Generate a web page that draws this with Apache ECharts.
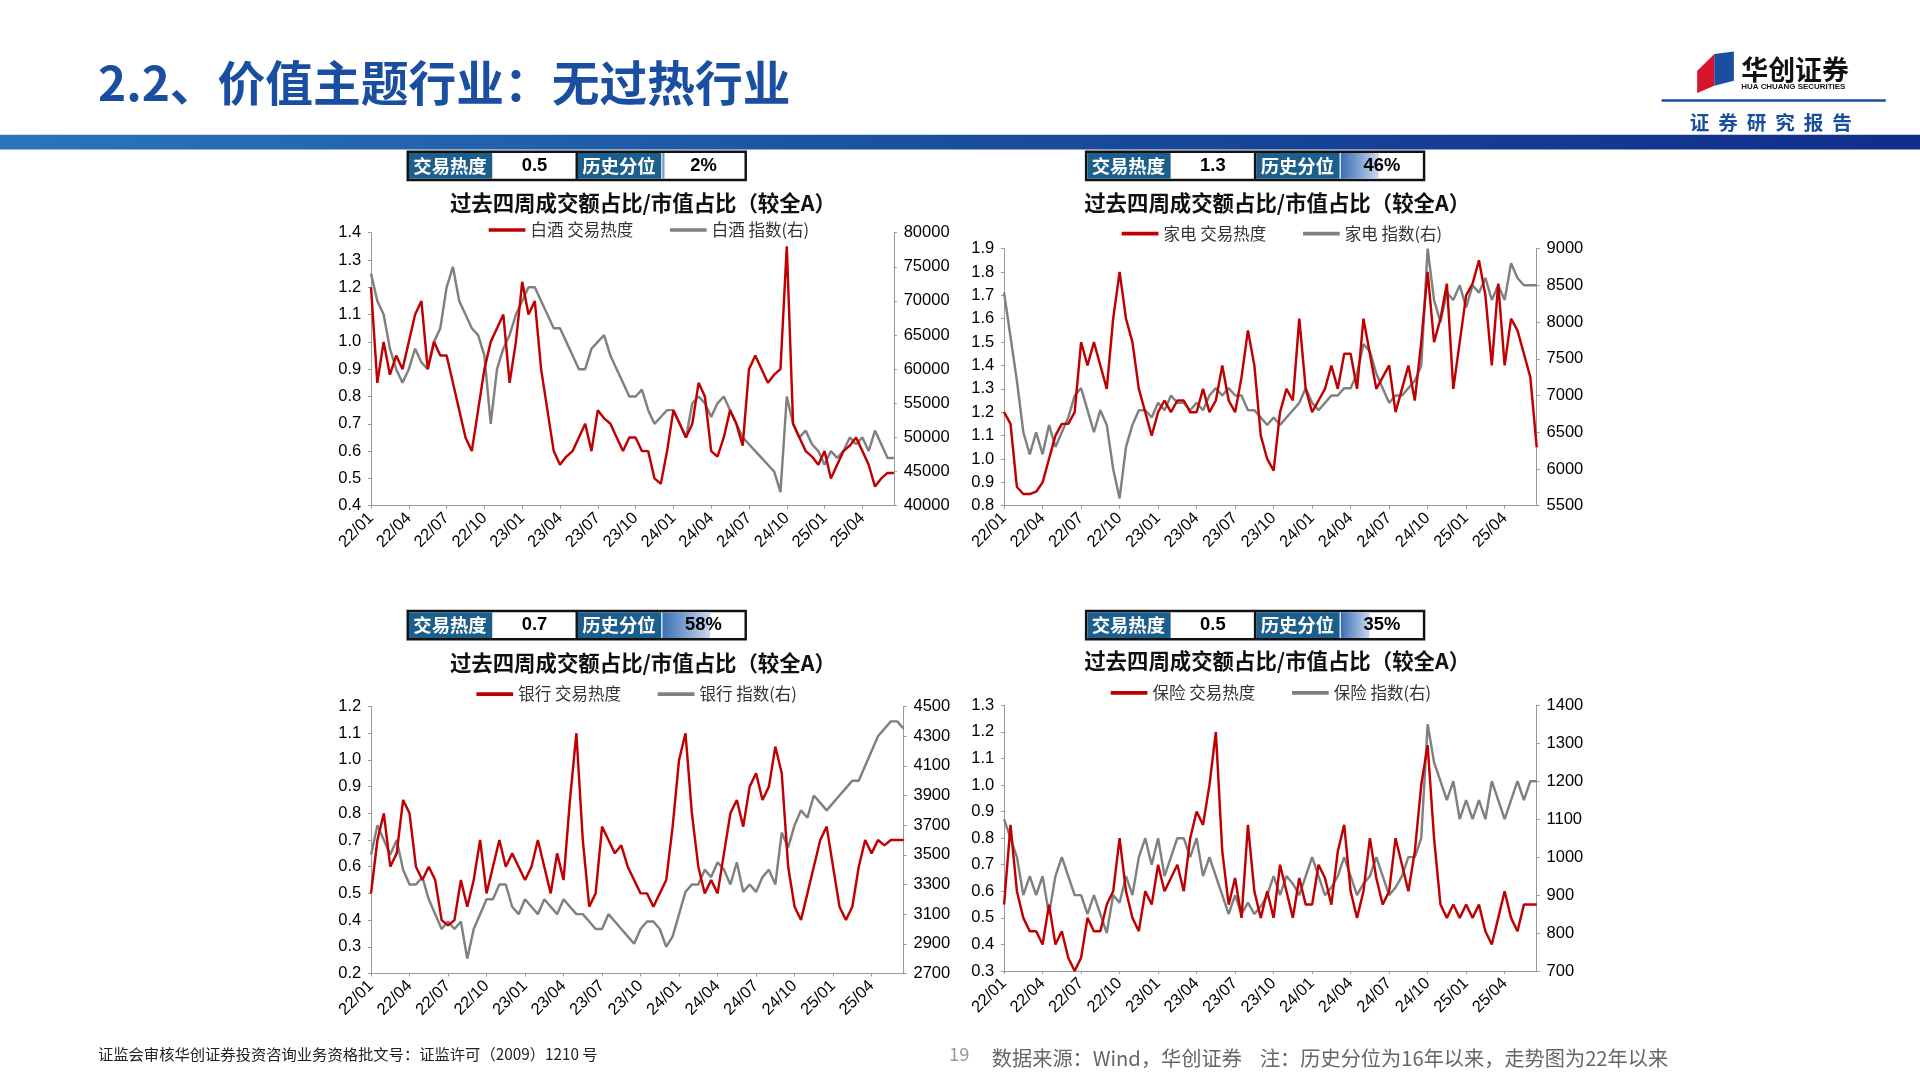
<!DOCTYPE html>
<html><head><meta charset="utf-8">
<script src="https://cdn.jsdelivr.net/npm/echarts@6/dist/echarts.min.js"></script>
<style>html,body{margin:0;padding:0;background:#fff}#c{width:1920px;height:1080px}</style>
</head><body><div id="c"></div>
<script>
const months=['22/01','22/02','22/03','22/04','22/05','22/06','22/07','22/08','22/09','22/10','22/11','22/12',
'23/01','23/02','23/03','23/04','23/05','23/06','23/07','23/08','23/09','23/10','23/11','23/12',
'24/01','24/02','24/03','24/04','24/05','24/06','24/07','24/08','24/09','24/10','24/11','24/12',
'25/01','25/02','25/03','25/04','25/05','25/06'];
const categories=months.flatMap(m=>[m,m]);

const baijiuHeat=[1.2,0.85,1.0,0.88,0.95,0.9,1.0,1.1,1.15,0.9,1.0,0.95,0.95,0.85,0.75,0.65,0.6,0.75,0.9,1.0,1.05,1.1,0.85,1.0,
1.22,1.1,1.15,0.9,0.75,0.6,0.55,0.58,0.6,0.65,0.7,0.6,0.75,0.72,0.7,0.65,0.6,0.65,0.65,0.6,0.6,0.5,0.48,0.6,
0.75,0.7,0.65,0.7,0.85,0.8,0.6,0.58,0.65,0.75,0.7,0.62,0.9,0.95,0.9,0.85,0.88,0.9,1.35,0.7,0.65,0.6,0.58,0.55,
0.6,0.5,0.55,0.6,0.62,0.65,0.6,0.55,0.47,0.5,0.52,0.52];
const baijiuIdx=[74000,70000,68000,63000,60000,58000,60000,63000,61000,60000,64000,66000,72000,75000,70000,68000,66000,65000,62000,52000,60000,63000,65000,68000,
70000,72000,72000,70000,68000,66000,66000,64000,62000,60000,60000,63000,64000,65000,62000,60000,58000,56000,56000,57000,54000,52000,53000,54000,
54000,52000,50000,55000,56000,55000,53000,55000,56000,54000,52000,50000,49000,48000,47000,46000,45000,42000,56000,52000,50000,51000,49000,48000,
46000,48000,47000,48000,50000,49000,50000,48000,51000,49000,47000,47000];

const jiadianHeat=[1.2,1.15,0.88,0.85,0.85,0.86,0.9,1.0,1.1,1.15,1.15,1.2,1.5,1.4,1.5,1.4,1.3,1.6,1.8,1.6,1.5,1.3,1.2,1.1,
1.2,1.25,1.2,1.25,1.25,1.2,1.2,1.3,1.2,1.25,1.4,1.25,1.2,1.35,1.55,1.4,1.1,1.0,0.95,1.2,1.3,1.25,1.6,1.3,
1.2,1.25,1.3,1.4,1.3,1.45,1.45,1.3,1.6,1.45,1.3,1.35,1.4,1.2,1.3,1.4,1.25,1.5,1.8,1.5,1.6,1.75,1.3,1.5,
1.7,1.75,1.85,1.7,1.4,1.75,1.4,1.6,1.55,1.45,1.35,1.05];
const jiadianIdx=[8400,7800,7200,6500,6200,6500,6200,6600,6300,6500,6700,7000,7100,6800,6500,6800,6600,6000,5600,6300,6600,6800,6800,6700,
6900,6800,7000,6900,6900,6800,6900,6800,7000,7100,7000,7100,7000,7000,6800,6800,6700,6600,6700,6600,6700,6800,6900,7100,
6900,6800,6900,7000,7000,7100,7100,7300,7700,7600,7300,7100,6900,7000,7000,7100,7200,7400,9000,8300,8000,8400,8300,8500,
8200,8500,8400,8600,8300,8500,8300,8800,8600,8500,8500,8500];

const yinhangHeat=[0.5,0.7,0.8,0.6,0.65,0.85,0.8,0.6,0.55,0.6,0.55,0.4,0.38,0.4,0.55,0.45,0.55,0.7,0.5,0.6,0.7,0.6,0.65,0.6,
0.55,0.6,0.7,0.6,0.5,0.65,0.55,0.85,1.1,0.7,0.45,0.5,0.75,0.7,0.65,0.68,0.6,0.55,0.5,0.5,0.45,0.5,0.55,0.75,
1.0,1.1,0.8,0.6,0.5,0.55,0.5,0.65,0.8,0.85,0.75,0.9,0.95,0.85,0.9,1.05,0.95,0.6,0.45,0.4,0.5,0.6,0.7,0.75,
0.6,0.45,0.4,0.45,0.6,0.7,0.65,0.7,0.68,0.7,0.7,0.7];
const yinhangIdx=[3500,3700,3600,3500,3600,3400,3300,3300,3350,3200,3100,3000,3050,3000,3050,2800,3000,3100,3200,3200,3300,3300,3150,3100,
3200,3150,3100,3200,3150,3100,3200,3150,3100,3100,3050,3000,3000,3100,3050,3000,2950,2900,3000,3050,3050,3000,2880,2950,
3100,3250,3300,3300,3400,3350,3450,3400,3300,3450,3250,3300,3250,3350,3400,3300,3650,3550,3700,3800,3750,3900,3850,3800,
3850,3900,3950,4000,4000,4100,4200,4300,4350,4400,4400,4350];

const baoxianHeat=[0.55,0.85,0.6,0.5,0.45,0.45,0.4,0.55,0.4,0.45,0.35,0.3,0.35,0.5,0.45,0.45,0.55,0.6,0.8,0.6,0.5,0.45,0.6,0.55,
0.7,0.6,0.65,0.7,0.6,0.8,0.9,0.85,1.0,1.2,0.75,0.55,0.65,0.5,0.85,0.6,0.5,0.6,0.5,0.7,0.6,0.5,0.65,0.55,
0.55,0.7,0.65,0.55,0.75,0.85,0.6,0.5,0.6,0.8,0.65,0.55,0.6,0.8,0.7,0.6,0.75,1.0,1.15,0.8,0.55,0.5,0.55,0.5,
0.55,0.5,0.55,0.45,0.4,0.5,0.6,0.5,0.45,0.55,0.55,0.55];
const baoxianIdx=[1100,1050,1000,900,950,900,950,850,950,1000,950,900,900,850,900,850,800,900,880,950,900,1000,1050,980,
1050,950,1000,1050,1050,1000,1050,950,1000,950,900,850,900,850,880,850,870,900,950,900,950,930,900,950,
1000,950,900,920,950,1000,950,900,930,950,1000,950,900,920,950,1000,1000,1050,1350,1250,1200,1150,1200,1100,
1150,1100,1150,1100,1200,1150,1100,1150,1200,1150,1200,1200];

const panels=[
 {name:'白酒',heat:baijiuHeat,idx:baijiuIdx,hv:'0.5',pct:0.02,pl:'2%',box:[333,124],title:[525,166],leg:[395,185],
  grid:[303,190,730,413],l:[0.4,1.4,0.1],r:[40000,80000,5000]},
 {name:'家电',heat:jiadianHeat,idx:jiadianIdx,hv:'1.3',pct:0.46,pl:'46%',box:[887,124],title:[1043,166],leg:[912,188],
  grid:[820,203,1255,413],l:[0.8,1.9,0.1],r:[5500,9000,500]},
 {name:'银行',heat:yinhangHeat,idx:yinhangIdx,hv:'0.7',pct:0.58,pl:'58%',box:[333,499],title:[525,541],leg:[385,564],
  grid:[303,577,738,795],l:[0.2,1.2,0.1],r:[2700,4500,200]},
 {name:'保险',heat:baoxianHeat,idx:baoxianIdx,hv:'0.5',pct:0.35,pl:'35%',box:[887,499],title:[1043,540],leg:[903,563],
  grid:[820,576,1255,793],l:[0.3,1.3,0.1],r:[700,1400,100]}
];
const S=1920/1568, s=v=>v*S;
const RED='#C00000', GRAY='#808080', FONT='"Noto Sans CJK SC","Noto Sans",sans-serif';
const grids=[],xAxes=[],yAxes=[],series=[],legends=[],graphics=[];
const axisLbl={fontSize:s(13.5),color:'#000',fontFamily:'"Liberation Sans Narrow","Liberation Sans",Arial'};
panels.forEach((p,i)=>{
  const [x1,y1,x2,y2]=p.grid;
  grids.push({left:s(x1),top:s(y1),width:s(x2-x1),height:s(y2-y1)});
  xAxes.push({type:'category',gridIndex:i,data:categories,boundaryGap:false,
    axisLine:{lineStyle:{color:'#999'}},axisTick:{interval:(k)=>k%6===0,length:3,lineStyle:{color:'#999'}},
    axisLabel:Object.assign({},axisLbl,{interval:(k)=>k%6===0,rotate:45,margin:s(8)})});
  const ya=(rng,pos,dec)=>({type:'value',gridIndex:i,position:pos,min:rng[0],max:rng[1],interval:rng[2],
    axisLine:{show:true,lineStyle:{color:'#999'}},axisTick:{show:true,length:3,lineStyle:{color:'#999'}},splitLine:{show:false},
    axisLabel:Object.assign({},axisLbl,{margin:s(8),formatter:v=>dec?v.toFixed(1):String(Math.round(v))})});
  yAxes.push(ya(p.l,'left',true)); yAxes.push(ya(p.r,'right',false));
  const n1=p.name+' 交易热度', n2=p.name+' 指数(右)';
  series.push({name:n1,type:'line',xAxisIndex:i,yAxisIndex:2*i,data:p.heat,showSymbol:false,lineStyle:{color:RED,width:s(2)},itemStyle:{color:RED},z:3});
  series.push({name:n2,type:'line',xAxisIndex:i,yAxisIndex:2*i+1,data:p.idx,showSymbol:false,lineStyle:{color:GRAY,width:s(2)},itemStyle:{color:GRAY},z:2});
  legends.push({data:[n1,n2],left:s(p.leg[0]),top:s(p.leg[1]-8),itemWidth:s(30),itemHeight:s(3),icon:'rect',itemGap:s(30),
    textStyle:{fontSize:s(13.5),color:'#333',fontFamily:FONT}});
  const [bx,by]=p.box, cw=69, h=23;
  const teal='#1C5E8C';
  graphics.push(
    {type:'rect',shape:{x:s(bx),y:s(by),width:s(cw*4),height:s(h)},style:{fill:'#fff',stroke:'#111',lineWidth:s(2)}},
    {type:'rect',shape:{x:s(bx+1),y:s(by+1),width:s(cw-1),height:s(h-2)},style:{fill:teal}},
    {type:'rect',shape:{x:s(bx+2*cw+1),y:s(by+1),width:s(cw-1),height:s(h-2)},style:{fill:teal}},
    {type:'rect',shape:{x:s(bx+3*cw+1),y:s(by+1),width:Math.max(s(2),s((cw-2)*p.pct)),height:s(h-2)},
      style:{fill:new echarts.graphic.LinearGradient(0,0,1,0,[{offset:0,color:'#3A6FB5'},{offset:1,color:'#C9D8F0'}])}},
    {type:'line',shape:{x1:s(bx+cw*2),y1:s(by),x2:s(bx+cw*2),y2:s(by+h)},style:{stroke:'#111',lineWidth:s(2)}},
    {type:'text',style:{text:'交易热度',x:s(bx+cw/2),y:s(by+h/2),align:'center',verticalAlign:'middle',fill:'#fff',fontSize:s(15),fontFamily:FONT,fontWeight:'bold'}},
    {type:'text',style:{text:p.hv,x:s(bx+cw*1.5),y:s(by+h/2),align:'center',verticalAlign:'middle',fill:'#000',fontSize:s(15),fontWeight:'bold',fontFamily:'"Liberation Sans",Arial'}},
    {type:'text',style:{text:'历史分位',x:s(bx+cw*2.5),y:s(by+h/2),align:'center',verticalAlign:'middle',fill:'#fff',fontSize:s(15),fontFamily:FONT,fontWeight:'bold'}},
    {type:'text',style:{text:p.pl,x:s(bx+cw*3.5),y:s(by+h/2),align:'center',verticalAlign:'middle',fill:'#000',fontSize:s(15),fontWeight:'bold',fontFamily:'"Liberation Sans",Arial'}},
    {type:'text',style:{text:'过去四周成交额占比/市值占比（较全A）',x:s(p.title[0]),y:s(p.title[1]),align:'center',verticalAlign:'middle',fill:'#111',fontSize:s(17.5),fontWeight:'bold',fontFamily:FONT}}
  );
});
graphics.push(
 {type:'text',style:{text:'2.2、价值主题行业：无过热行业',x:s(80),y:s(68),verticalAlign:'middle',fill:'#1A4EA0',fontSize:s(39),fontWeight:'bold',fontFamily:FONT}},
 {type:'rect',shape:{x:0,y:s(110),width:1920,height:s(12)},style:{fill:new echarts.graphic.LinearGradient(0,0,1,0,[{offset:0,color:'#2A75BC'},{offset:0.5,color:'#1A4E9E'},{offset:1,color:'#102E8A'}])}},
 {type:'rect',shape:{x:s(1357),y:s(81),width:s(183),height:s(2)},style:{fill:'#1A4E9E'}},
 {type:'polygon',shape:{points:[[s(1386),s(58)],[s(1400),s(44)],[s(1400),s(70)],[s(1386),s(76)]]},style:{fill:'#D7142B'}},
 {type:'polygon',shape:{points:[[s(1400),s(44)],[s(1416),s(42)],[s(1416),s(66)],[s(1400),s(70)]]},style:{fill:'#1A4E9E'}},
 {type:'text',style:{text:'华创证券',x:s(1422),y:s(57),verticalAlign:'middle',fill:'#111',fontSize:s(22),fontWeight:'bold',fontFamily:FONT}},
 {type:'text',style:{text:'HUA CHUANG SECURITIES',x:s(1422),y:s(71),verticalAlign:'middle',fill:'#111',fontSize:s(6.5),fontWeight:'bold',fontFamily:'"Liberation Sans",Arial'}},
 {type:'text',style:{text:'证  券  研  究  报  告',x:s(1380),y:s(100),verticalAlign:'middle',fill:'#1A4E9E',fontSize:s(16),fontWeight:'bold',fontFamily:FONT}},
 {type:'text',style:{text:'证监会审核华创证券投资咨询业务资格批文号：证监许可（2009）1210 号',x:s(80),y:s(861),verticalAlign:'middle',fill:'#222',fontSize:s(12.5),fontFamily:FONT}},
 {type:'text',style:{text:'19',x:s(775),y:s(861),verticalAlign:'middle',fill:'#999',fontSize:s(15),fontFamily:FONT}},
 {type:'text',style:{text:'数据来源：Wind，华创证券    注：历史分位为16年以来，走势图为22年以来',x:s(810),y:s(864),verticalAlign:'middle',fill:'#666',fontSize:s(16.5),fontFamily:FONT}}
);
const chart=echarts.init(document.getElementById('c'));
chart.setOption({animation:false,grid:grids,xAxis:xAxes,yAxis:yAxes,series:series,legend:legends,graphic:graphics});
</script></body></html>
